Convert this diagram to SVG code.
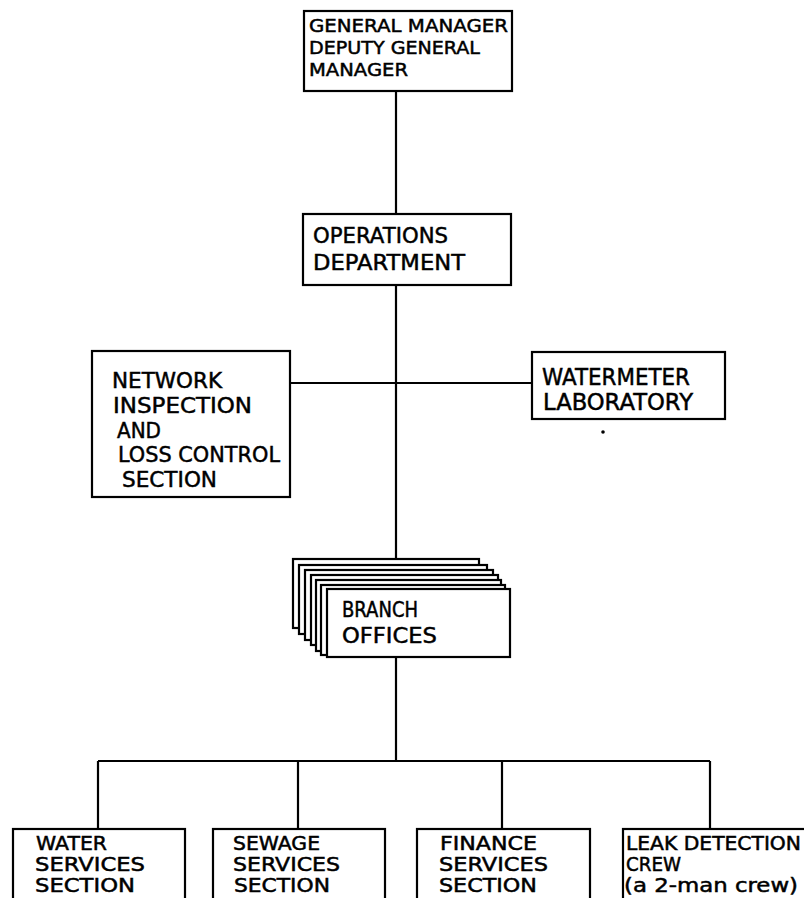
<svg xmlns="http://www.w3.org/2000/svg" width="804" height="898" viewBox="0 0 804 898">
<style>
.box{fill:#fff;stroke:#000;stroke-width:2.2}
.ln{fill:none;stroke:#000;stroke-width:2.2}
text{font-family:"DejaVu Sans","Liberation Sans",sans-serif;fill:#000;stroke:#000;stroke-width:0.5}
.s18{font-size:18.5px}
.s22{font-size:22px}
.s23{font-size:23px}
.s21{font-size:21px}
.s19{font-size:19px}
</style>
<rect width="804" height="898" fill="#fff"/>
<g id="connectors">
<path class="ln" d="M396,91 V214"/>
<path class="ln" d="M396,285 V559"/>
<path class="ln" d="M290,383 H532"/>
<path class="ln" d="M396,657 V761"/>
<path class="ln" d="M98,761 H710"/>
<path class="ln" d="M98,761 V829 M298,761 V829 M502,761 V829 M710,761 V829"/>
</g>
<g id="gm">
<rect class="box" x="304" y="11" width="208" height="80"/>
<text class="s18" x="309" y="32" textLength="199" lengthAdjust="spacingAndGlyphs">GENERAL MANAGER</text>
<text class="s18" x="309" y="54" textLength="171" lengthAdjust="spacingAndGlyphs">DEPUTY GENERAL</text>
<text class="s18" x="309" y="76" textLength="99" lengthAdjust="spacingAndGlyphs">MANAGER</text>
</g>
<g id="operations">
<rect class="box" x="303" y="214" width="208" height="71"/>
<text class="s22" x="313" y="243" textLength="135" lengthAdjust="spacingAndGlyphs">OPERATIONS</text>
<text class="s22" x="313" y="270" textLength="152" lengthAdjust="spacingAndGlyphs">DEPARTMENT</text>
</g>
<g id="network">
<rect class="box" x="92" y="351" width="198" height="146"/>
<text class="s22" x="112" y="388" textLength="110" lengthAdjust="spacingAndGlyphs">NETWORK</text>
<text class="s22" x="113" y="413" textLength="139" lengthAdjust="spacingAndGlyphs">INSPECTION</text>
<text class="s22" x="117" y="438" textLength="44" lengthAdjust="spacingAndGlyphs">AND</text>
<text class="s22" x="118" y="462" textLength="162" lengthAdjust="spacingAndGlyphs">LOSS CONTROL</text>
<text class="s22" x="122" y="487" textLength="95" lengthAdjust="spacingAndGlyphs">SECTION</text>
</g>
<g id="watermeter">
<rect class="box" x="532" y="352" width="193" height="67"/>
<text class="s23" x="542" y="385" textLength="148" lengthAdjust="spacingAndGlyphs">WATERMETER</text>
<text class="s23" x="543" y="410" textLength="150" lengthAdjust="spacingAndGlyphs">LABORATORY</text>
</g>
<circle cx="603" cy="432" r="1.8" fill="#000"/>
<g id="branch-offices">
<rect class="box" x="293" y="559" width="186" height="69"/>
<rect class="box" x="299" y="565" width="188" height="69"/>
<rect class="box" x="305" y="570" width="188" height="70"/>
<rect class="box" x="311" y="575" width="187" height="70"/>
<rect class="box" x="316" y="580" width="185" height="71"/>
<rect class="box" x="321" y="585" width="184" height="70"/>
<rect class="box" x="327" y="589" width="183" height="68"/>
<text class="s21" x="342" y="617" textLength="76" lengthAdjust="spacingAndGlyphs">BRANCH</text>
<text class="s21" x="342" y="643" textLength="95" lengthAdjust="spacingAndGlyphs">OFFICES</text>
</g>
<g id="water">
<rect class="box" x="13" y="829" width="172" height="80"/>
<text class="s19" x="36" y="850" textLength="71" lengthAdjust="spacingAndGlyphs">WATER</text>
<text class="s19" x="35" y="871" textLength="110" lengthAdjust="spacingAndGlyphs">SERVICES</text>
<text class="s19" x="35" y="892" textLength="100" lengthAdjust="spacingAndGlyphs">SECTION</text>
</g>
<g id="sewage">
<rect class="box" x="213" y="829" width="172" height="80"/>
<text class="s19" x="233" y="850" textLength="87" lengthAdjust="spacingAndGlyphs">SEWAGE</text>
<text class="s19" x="233" y="871" textLength="107" lengthAdjust="spacingAndGlyphs">SERVICES</text>
<text class="s19" x="234" y="892" textLength="96" lengthAdjust="spacingAndGlyphs">SECTION</text>
</g>
<g id="finance">
<rect class="box" x="417" y="829" width="173" height="80"/>
<text class="s19" x="440" y="850" textLength="97" lengthAdjust="spacingAndGlyphs">FINANCE</text>
<text class="s19" x="439" y="871" textLength="109" lengthAdjust="spacingAndGlyphs">SERVICES</text>
<text class="s19" x="439" y="892" textLength="98" lengthAdjust="spacingAndGlyphs">SECTION</text>
</g>
<g id="leak">
<rect class="box" x="623" y="829" width="190" height="80"/>
<text class="s19" x="626" y="850" textLength="175" lengthAdjust="spacingAndGlyphs">LEAK DETECTION</text>
<text class="s19" x="626" y="871" textLength="55" lengthAdjust="spacingAndGlyphs">CREW</text>
<text class="s19" x="624" y="892" textLength="174" lengthAdjust="spacingAndGlyphs">(a 2-man crew)</text>
</g>
</svg>
